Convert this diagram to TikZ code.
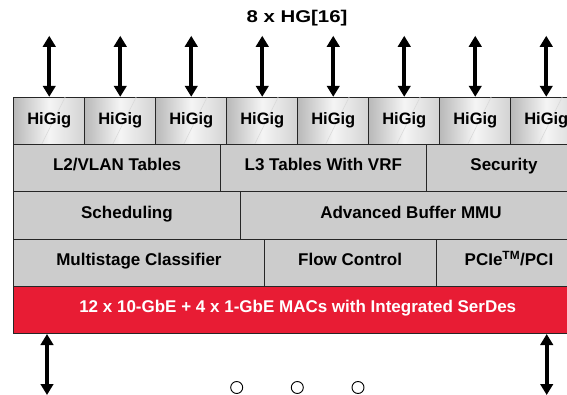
\documentclass[tikz,border=0pt]{standalone}
\usepackage{fontspec}
\setmainfont{Liberation Sans}
\newfontfamily\titlefont[FakeStretch=1.2]{Liberation Sans}
\usetikzlibrary{arrows.meta,calc}

\definecolor{macred}{RGB}{232,28,52}
\definecolor{cellgray}{RGB}{204,204,204}

\tikzset{
  cell/.style={draw=black!85,line width=0.9pt,fill=cellgray,inner sep=0pt,
    anchor=south west,font=\bfseries\fontsize{17}{20}\selectfont,text=black,
    text height=10pt,text depth=4.6pt},
  higig/.style={cell,left color=gray!55,right color=gray!35,middle color=gray!8},
  macrow/.style={cell,fill=macred,text=white},
  port/.style={draw=black,line width=4.4pt,{Triangle[width=12.5pt,length=11pt]}-{Triangle[width=12.5pt,length=11pt]}},
  dot/.style={circle,draw,line width=0.9pt,minimum size=12pt,inner sep=0pt}
}

\begin{document}
\begin{tikzpicture}[x=1pt,y=1pt]
\useasboundingbox (0,0) rectangle (567,394);
\clip (0,0) rectangle (567,394);

\node [font=\titlefont\bfseries\fontsize{17}{20}\selectfont] (title) at (297,376) {8 x HG[16]};

% HiGig ports
\foreach \i in {0,...,7} {
  \node [higig,minimum width=71pt,minimum height=47.3pt] (hg\i) at (13.3+71*\i,249) {};
  \draw [white!70!gray,line width=0.6pt] ($(hg\i.south west)+(28,0)$) -- ($(hg\i.north west)+(52,0)$);
  \node (hgt\i) at ($(hg\i)+(0,1)$) {\bfseries\fontsize{16.5}{19}\selectfont HiGig};
  \coordinate (top\i) at ($(hg\i.north)+(0,61)$);
  \draw [port] (top\i) -- (hg\i.north);
}

% tables
\node [cell,minimum width=206.7pt,minimum height=47.3pt] (l2) at (13.3,201.7) {L2/VLAN Tables};
\node [cell,minimum width=205.7pt,minimum height=47.3pt] (l3) at (220,201.7) {L3 Tables With VRF};
\node [cell,minimum width=155.6pt,minimum height=47.3pt] (sec) at (425.7,201.7) {Security};

\node [cell,minimum width=226.4pt,minimum height=47.4pt] (sched) at (13.3,154.3) {Scheduling};
\node [cell,minimum width=341.6pt,minimum height=47.4pt] (mmu) at (239.7,154.3) {Advanced Buffer MMU};

\node [cell,minimum width=250.4pt,minimum height=47.6pt] (cls) at (13.3,106.7) {Multistage Classifier};
\node [cell,minimum width=172pt,minimum height=47.6pt] (flow) at (263.7,106.7) {Flow Control};
\node [cell,minimum width=145.6pt,minimum height=47.6pt] (pci) at (435.7,106.7) {PCIe\textsuperscript{TM}/PCI};

% MACs
\node [macrow,minimum width=568pt,minimum height=46.7pt] (mac) at (13.3,60) {12 x 10-GbE + 4 x 1-GbE MACs with Integrated SerDes};

\coordinate (bot0) at (47,-1);
\coordinate (bot1) at (546.7,-1);
\draw [port] (mac.south -| bot0) -- (bot0);
\draw [port] (mac.south -| bot1) -- (bot1);

\node [dot] (dot1) at (236.7,6.5) {};
\node [dot] (dot2) at (297.3,6.5) {};
\node [dot] (dot3) at (358,6.5) {};

\end{tikzpicture}
\end{document}
